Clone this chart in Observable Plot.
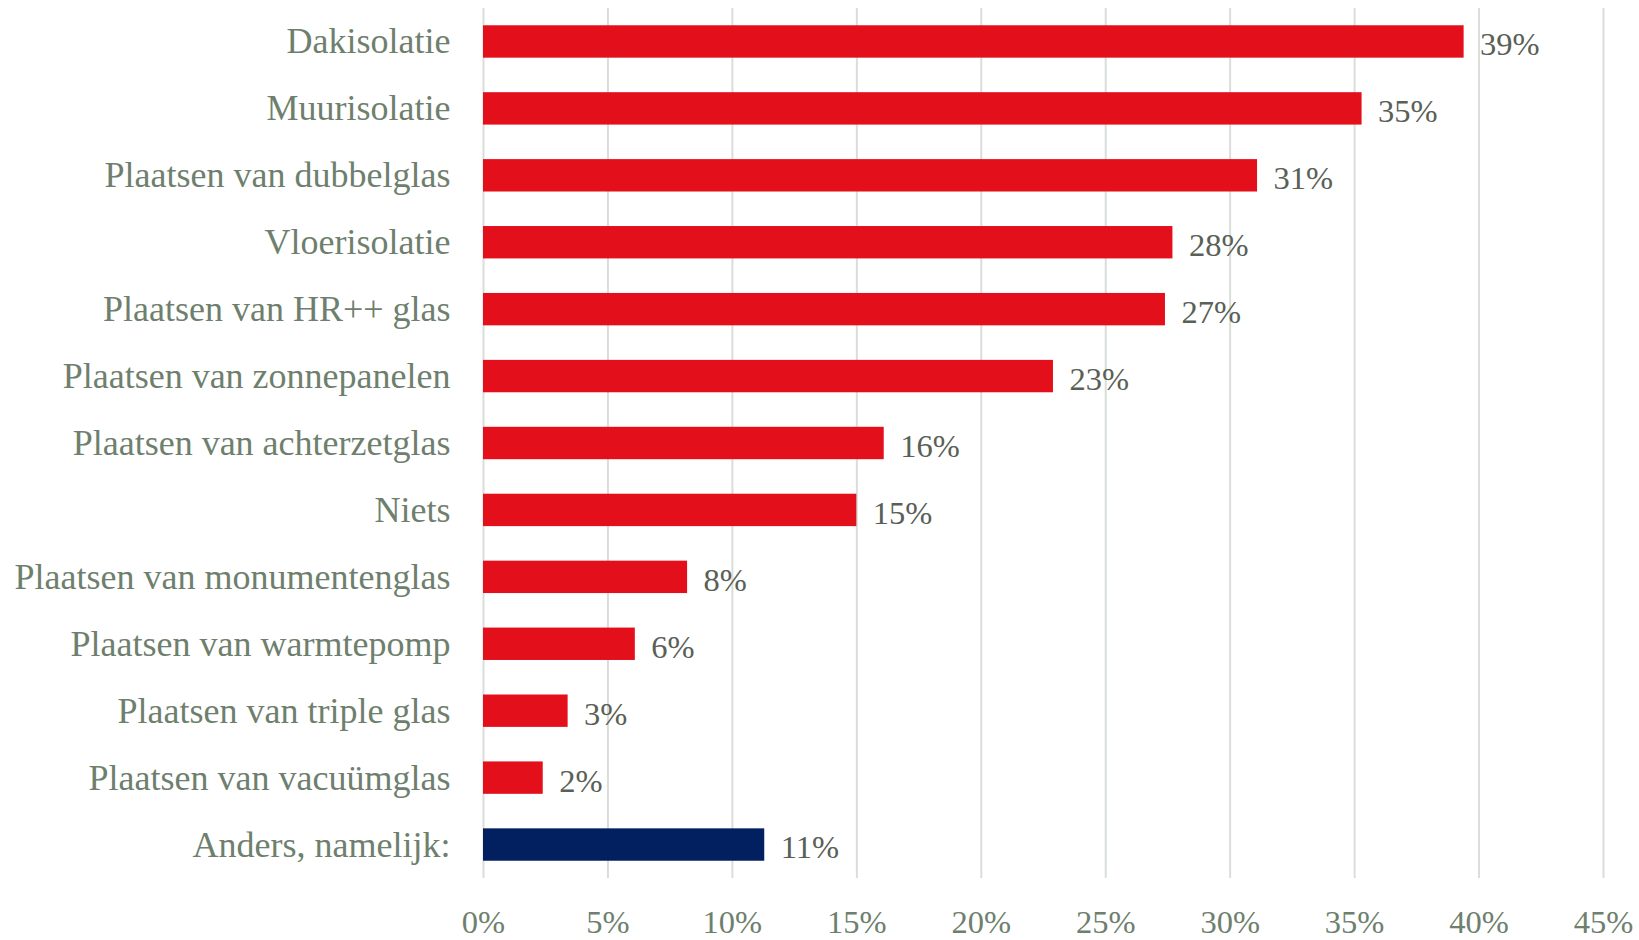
<!DOCTYPE html>
<html><head><meta charset="utf-8">
<script src="https://cdn.jsdelivr.net/npm/d3@7"></script>
<script src="https://cdn.jsdelivr.net/npm/@observablehq/plot@0.6"></script>
<style>body{margin:0;background:#fff;}</style>
</head><body><div id="chart"></div>
<script>
const categories = [
  "Dakisolatie",
  "Muurisolatie",
  "Plaatsen van dubbelglas",
  "Vloerisolatie",
  "Plaatsen van HR++ glas",
  "Plaatsen van zonnepanelen",
  "Plaatsen van achterzetglas",
  "Niets",
  "Plaatsen van monumentenglas",
  "Plaatsen van warmtepomp",
  "Plaatsen van triple glas",
  "Plaatsen van vacuümglas",
  "Anders, namelijk:"
];
const values = [39.4, 35.3, 31.1, 27.7, 27.4, 22.9, 16.1, 15.0, 8.2, 6.1, 3.4, 2.4, 11.3];
const groups = ["maatregel","maatregel","maatregel","maatregel","maatregel","maatregel","maatregel","maatregel","maatregel","maatregel","maatregel","maatregel","anders"];
const xTicks = [0, 5, 10, 15, 20, 25, 30, 35, 40, 45];

const data = categories.map((c, i) => ({category: c, value: values[i], group: groups[i]}));
const font = "'Liberation Serif', 'DejaVu Serif', serif";

const chart = Plot.plot({
  width: 1639, height: 940,
  marginLeft: 483, marginRight: 36, marginTop: 8, marginBottom: 62,
  style: {fontFamily: font, fontSize: "33px", background: "#fff", overflow: "visible"},
  x: {domain: [0, 45], label: null},
  y: {domain: categories, paddingInner: 0.516, paddingOuter: 0.258, round: false, label: null},
  color: {domain: ["maatregel", "anders"], range: ["#E30F1B", "#02205F"]},
  marks: [
    Plot.gridX(xTicks, {stroke: "#D9DED9", strokeOpacity: 1, strokeWidth: 2}),
    Plot.barX(data, {x: "value", y: "category", fill: "group"}),
    Plot.text(data, {x: "value", y: "category", text: d => Math.round(d.value) + "%", textAnchor: "start", dx: 16, dy: 3, fill: "#596056", fontSize: 32.5}),
    Plot.axisX(xTicks, {tickSize: 0, tickPadding: 31, tickFormat: d => d + "%", fill: "#6E806D", fontSize: 32.5, label: null}),
    Plot.axisY({tickSize: 0, tickPadding: 33, fill: "#6E806D", fontSize: 36, label: null})
  ]
});
document.getElementById("chart").appendChild(chart);
</script>
</body></html>
